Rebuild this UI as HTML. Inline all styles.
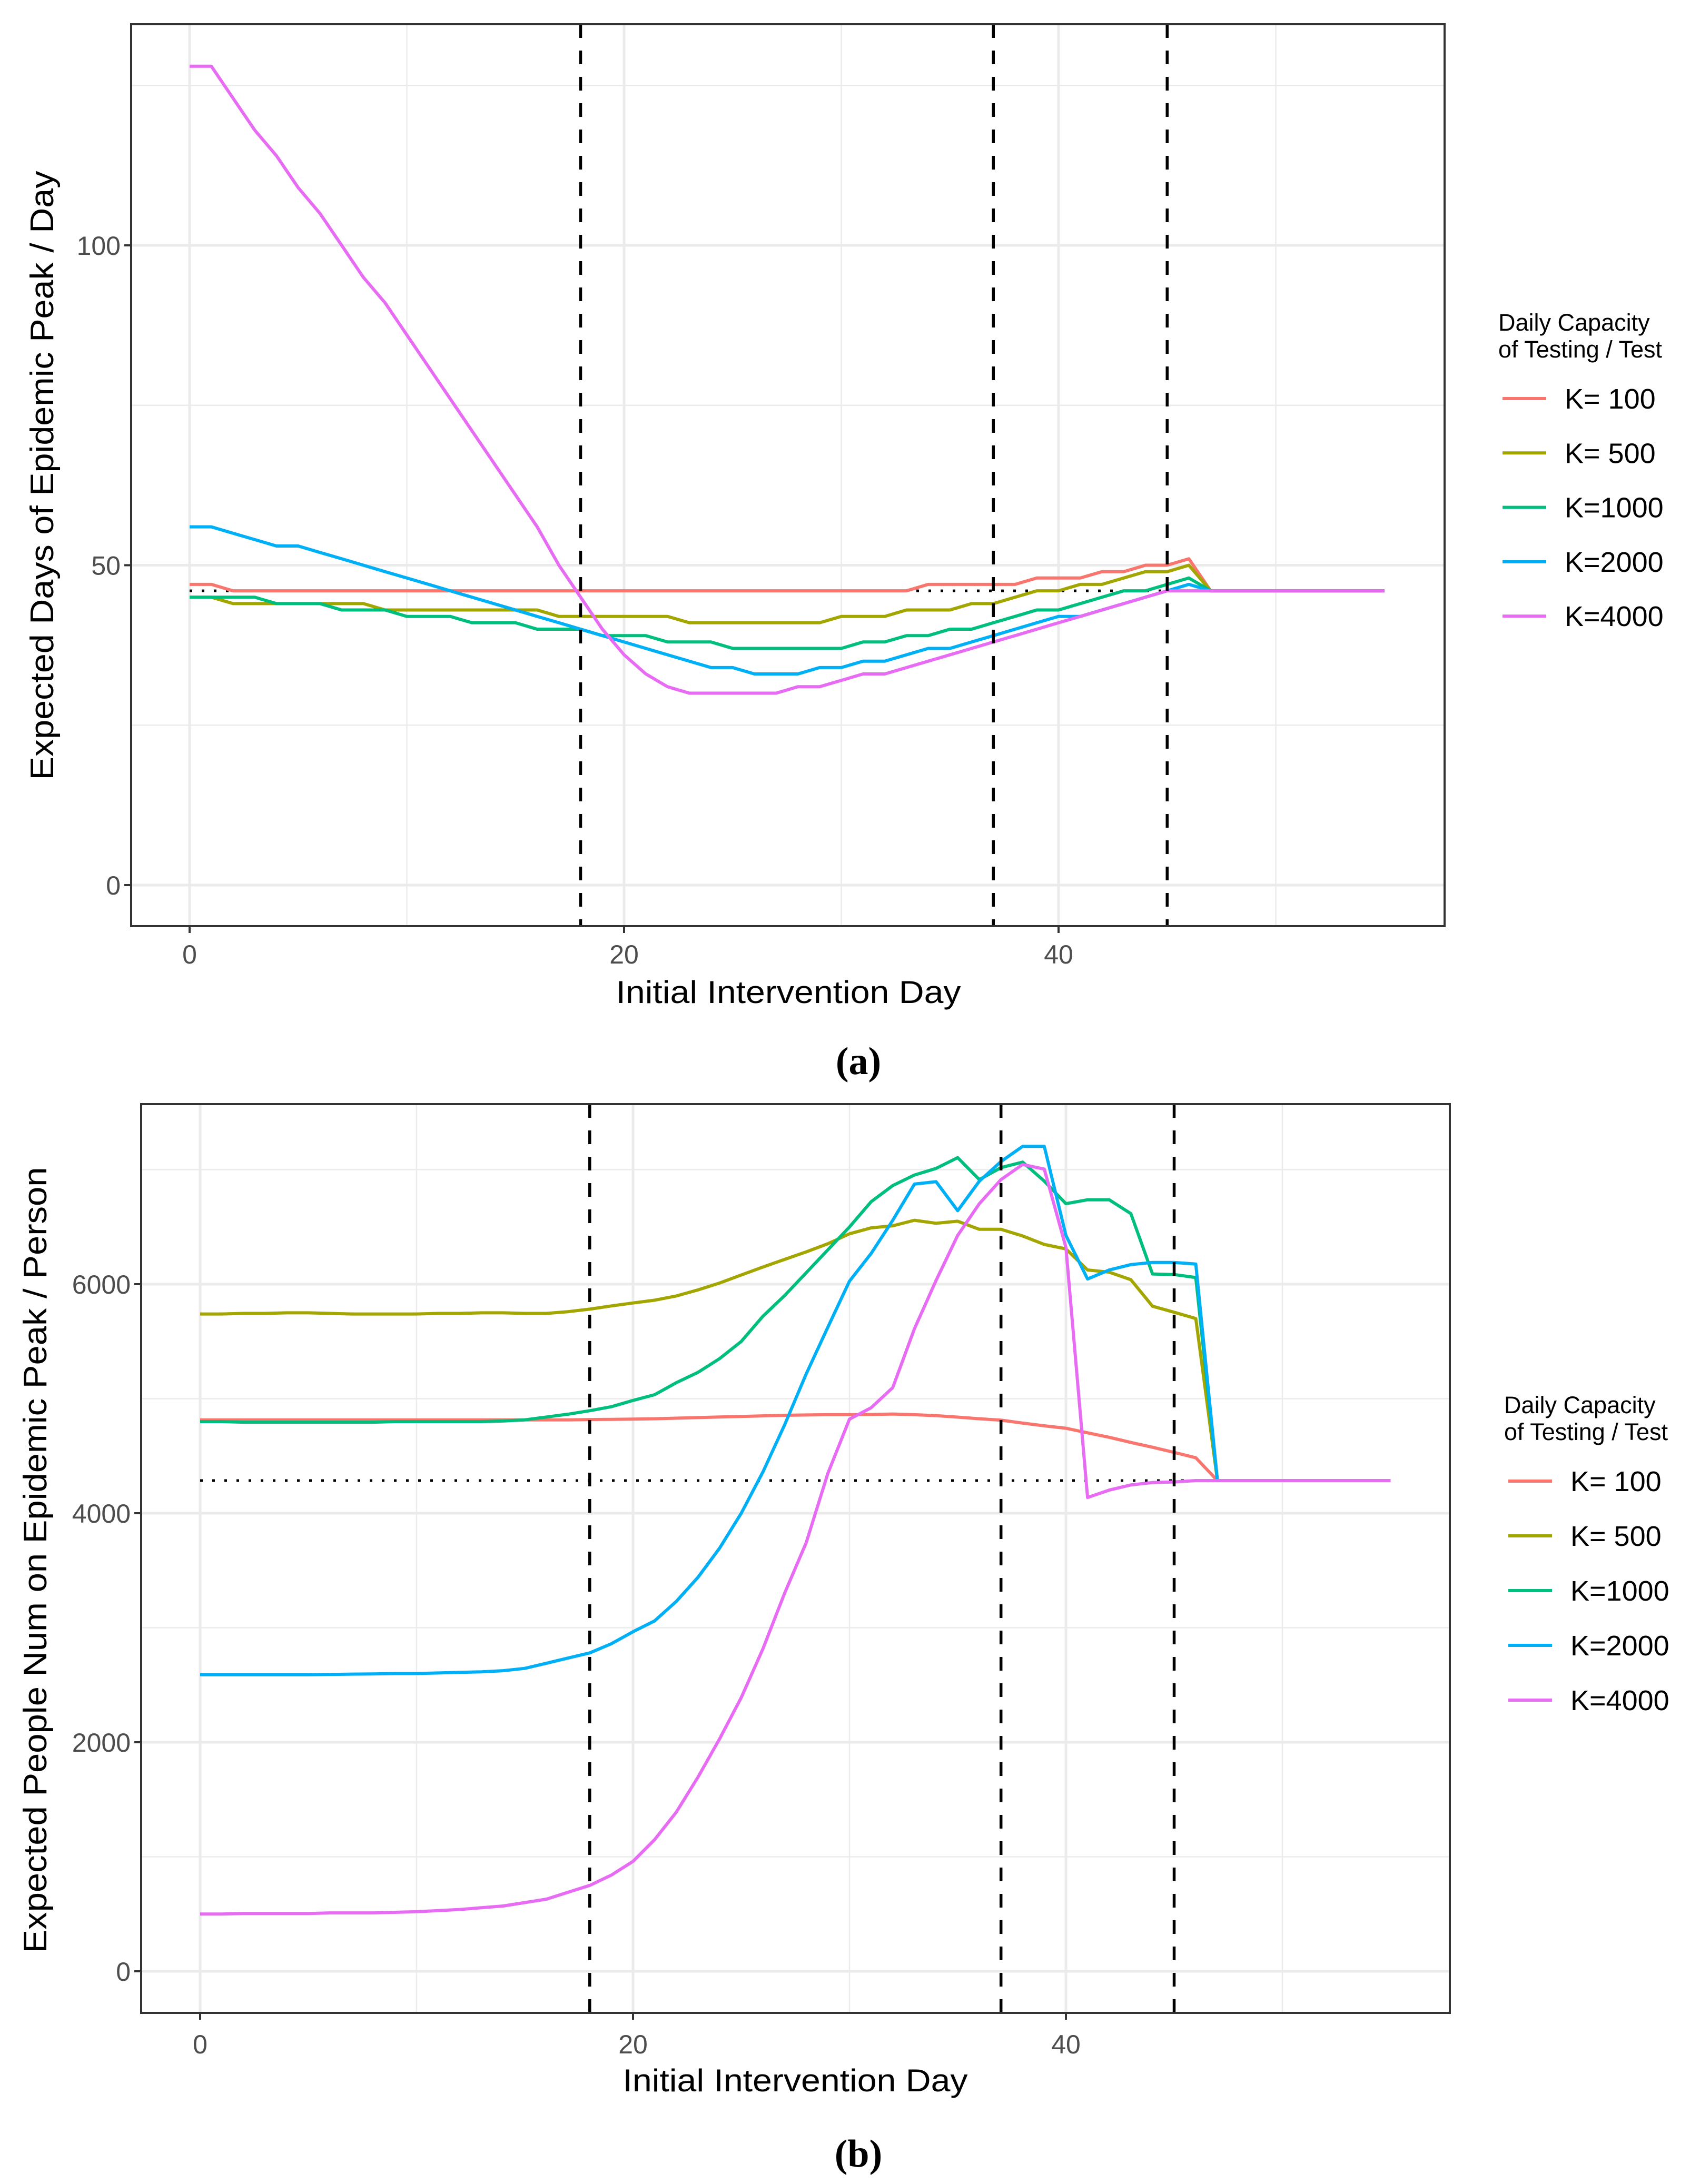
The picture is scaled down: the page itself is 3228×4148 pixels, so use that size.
<!DOCTYPE html>
<html><head><meta charset="utf-8"><style>
html,body{margin:0;padding:0;background:#fff}
svg{display:block}
text{font-family:"Liberation Sans",Arial,sans-serif}
text.cap{font-family:"Liberation Serif","Times New Roman",serif}
</style></head><body>
<svg id="fig" width="3228" height="4148" viewBox="0 0 3228 4148" xmlns="http://www.w3.org/2000/svg"></svg>
<script>
// ---------- data ----------
const days = [];
for (let d = 0; d <= 55; d++) days.push(d);
const seriesNames = ["K= 100","K= 500","K=1000","K=2000","K=4000"];
const colors = ["#F8766D","#A3A500","#00BF7D","#00B0F6","#E76BF3"];
const vlineDays = [18, 37, 45];

// Panel (a): expected days of epidemic peak
const aK100 = [47,47,46,46,46,46,46,46,46,46,46,46,46,46,46,46,46,46,46,46,46,46,46,46,46,46,46,46,46,46,46,46,46,46,47,47,47,47,47,48,48,48,49,49,50,50,51,46,46,46,46,46,46,46,46,46];
const aK500 = [45,45,44,44,44,44,44,44,44,43,43,43,43,43,43,43,43,42,42,42,42,42,42,41,41,41,41,41,41,41,42,42,42,43,43,43,44,44,45,46,46,47,47,48,49,49,50,46,46,46,46,46,46,46,46,46];
const aK1000 = [45,45,45,45,44,44,44,43,43,43,42,42,42,41,41,41,40,40,40,39,39,39,38,38,38,37,37,37,37,37,37,38,38,39,39,40,40,41,42,43,43,44,45,46,46,47,48,46,46,46,46,46,46,46,46,46];
const aK2000 = [56,56,55,54,53,53,52,51,50,49,48,47,46,45,44,43,42,41,40,39,38,37,36,35,34,34,33,33,33,34,34,35,35,36,37,37,38,39,40,41,42,42,43,44,45,46,47,46,46,46,46,46,46,46,46,46];
const aK4000 = [128,128,123,118,114,109,105,100,95,91,86,81,76,71,66,61,56,50,45,40,36,33,31,30,30,30,30,30,31,31,32,33,33,34,35,36,37,38,39,40,41,42,43,44,45,46,46,46,46,46,46,46,46,46,46,46];
const aRef = 46;
const aRefEnd = 46;
const aYTicks = [0, 50, 100];
const aYMinor = [25, 75, 125];

// Panel (b): expected people num on epidemic peak
const bK100 = [4815,4815,4815,4815,4815,4815,4815,4815,4815,4815,4815,4815,4815,4815,4815,4815,4815,4815,4818,4820,4822,4825,4830,4835,4840,4845,4850,4855,4858,4860,4860,4862,4866,4860,4852,4839,4825,4813,4787,4763,4742,4702,4663,4618,4576,4531,4484,4285,4285,4285,4285,4285,4285,4285,4285,4285];
const bK500 = [5740,5740,5745,5745,5750,5750,5745,5740,5740,5740,5740,5745,5745,5750,5750,5745,5745,5760,5782,5810,5836,5860,5897,5950,6010,6080,6150,6216,6282,6353,6440,6492,6510,6558,6532,6550,6479,6479,6421,6347,6308,6124,6105,6039,5808,5755,5700,4285,4285,4285,4285,4285,4285,4285,4285,4285];
const bK1000 = [4800,4800,4795,4795,4795,4795,4795,4795,4795,4800,4800,4800,4800,4800,4805,4815,4840,4865,4895,4930,4985,5035,5140,5230,5350,5500,5720,5900,6100,6300,6500,6720,6861,6953,7011,7105,6913,7018,7066,6900,6703,6737,6737,6616,6089,6084,6058,4285,4285,4285,4285,4285,4285,4285,4285,4285];
const bK2000 = [2590,2590,2590,2590,2590,2590,2592,2595,2597,2600,2600,2605,2610,2615,2625,2645,2690,2735,2780,2860,2965,3060,3230,3440,3695,4000,4360,4770,5216,5624,6026,6268,6558,6874,6895,6642,6900,7071,7203,7203,6426,6045,6124,6171,6190,6190,6176,4285,4285,4285,4285,4285,4285,4285,4285,4285];
const bK4000 = [500,500,505,505,505,505,510,510,510,515,520,530,540,555,570,600,630,690,750,840,960,1150,1390,1695,2030,2390,2815,3300,3742,4347,4821,4921,5097,5610,6032,6426,6703,6913,7045,7005,6321,4137,4202,4247,4268,4273,4285,4285,4285,4285,4285,4285,4285,4285,4285,4285];
const bRef = 4285;
const bRefEnd = 47;
const bYTicks = [0, 2000, 4000, 6000];
const bYMinor = [1000, 3000, 5000, 7000];
const xTicks = [0, 20, 40];
const xMinor = [10, 30, 50];

// ---------- drawing ----------
const NS = "http://www.w3.org/2000/svg";
const svg = document.getElementById("fig");
function mk(tag, attrs, parent, txt) {
  const e = document.createElementNS(NS, tag);
  for (const k in attrs) e.setAttribute(k, attrs[k]);
  if (txt !== undefined) e.textContent = txt;
  (parent || svg).appendChild(e);
  return e;
}

function drawPanel(cfg) {
  const g = mk("g", {});
  
  
  const X = d => cfg.x0 + d * cfg.dx;
  const Y = v => cfg.y0 - v * cfg.dy;
  const L = cfg.left, R = cfg.right, T = cfg.top, B = cfg.bottom;
  const cid = cfg.name + "-clip";
  const defs = mk("defs", {}, g);
  const cp = mk("clipPath", {id: cid}, defs);
  mk("rect", {x: L, y: T, width: R - L, height: B - T}, cp);
  const grid = mk("g", {"clip-path": "url(#" + cid + ")"}, g);
  
  
  cfg.yMinor.forEach(v => mk("line", {x1: L, x2: R, y1: Y(v), y2: Y(v), stroke: "#ebebeb", "stroke-width": 2.5}, grid));
  xMinor.forEach(v => mk("line", {x1: X(v), x2: X(v), y1: T, y2: B, stroke: "#ebebeb", "stroke-width": 2.5}, grid));
  cfg.yTicks.forEach(v => mk("line", {x1: L, x2: R, y1: Y(v), y2: Y(v), stroke: "#ebebeb", "stroke-width": 5}, grid));
  xTicks.forEach(v => mk("line", {x1: X(v), x2: X(v), y1: T, y2: B, stroke: "#ebebeb", "stroke-width": 5}, grid));

  const plot = mk("g", {"clip-path": "url(#" + cid + ")"}, g);
  const ref = mk("line", {x1: X(0), x2: X(cfg.refEnd), y1: Y(cfg.ref), y2: Y(cfg.ref), stroke: "#000", "stroke-width": 5, "stroke-dasharray": "5 18"}, plot);
  
  
  cfg.series.forEach((s, i) => {
    const pts = days.map((d, j) => X(d).toFixed(1) + "," + Y(s[j]).toFixed(1)).join(" ");
    const pl = mk("polyline", {points: pts, fill: "none", stroke: colors[i], "stroke-width": 6, "stroke-linejoin": "round"}, plot);
    
    
  });
  vlineDays.forEach(d => {
    const vl = mk("line", {x1: X(d), x2: X(d), y1: T, y2: B, stroke: "#000", "stroke-width": 5.5, "stroke-dasharray": "26 24"}, plot);
    
    
  });
  const br = mk("rect", {x: L, y: T, width: R - L, height: B - T, fill: "none", stroke: "#333333", "stroke-width": 4}, g);
  
  
  cfg.yTicks.forEach(v => {
    mk("line", {x1: L - 13, x2: L, y1: Y(v), y2: Y(v), stroke: "#333", "stroke-width": 4}, g);
    const t = mk("text", {x: L - 20, y: Y(v) + 18, "text-anchor": "end", "font-size": 50, fill: "#4d4d4d"}, g, String(v));
    
    
  });
  xTicks.forEach(v => {
    mk("line", {x1: X(v), x2: X(v), y1: B, y2: B + 13, stroke: "#333", "stroke-width": 4}, g);
    const t = mk("text", {x: X(v), y: cfg.xTickY, "text-anchor": "middle", "font-size": 50, fill: "#4d4d4d"}, g, String(v));
    
    
  });
  const xt = mk("text", {x: cfg.xTitleX, y: cfg.xTitleY, "text-anchor": "middle", "font-size": 60, fill: "#000", textLength: 655, lengthAdjust: "spacingAndGlyphs"}, g, "Initial Intervention Day");
  
  
  const yt = mk("text", {x: 0, y: 0, "text-anchor": "middle", "font-size": 62, fill: "#000", textLength: cfg.yTitleLen, lengthAdjust: "spacingAndGlyphs", transform: "translate(" + cfg.yTitleX + "," + cfg.yTitleCY + ") rotate(-90)"}, g, cfg.yTitle);
  
  
  const lg = mk("g", {}, g);
  
  
  mk("text", {x: cfg.legX, y: cfg.legTitleY, "font-size": 45, fill: "#000"}, lg, "Daily Capacity");
  mk("text", {x: cfg.legX, y: cfg.legTitleY + 51, "font-size": 45, fill: "#000"}, lg, "of Testing / Test");
  seriesNames.forEach((n, i) => {
    const yy = cfg.legY0 + i * cfg.legStep;
    const e = mk("g", {}, lg);
    
    
    mk("line", {x1: cfg.legX + 8, x2: cfg.legX + 91, y1: yy, y2: yy, stroke: colors[i], "stroke-width": 6}, e);
    mk("text", {x: cfg.legX + 126, y: yy + 19, "font-size": 54, fill: "#000"}, e, n);
  });
  const cap = mk("text", {x: 1630, y: cfg.capY, "text-anchor": "middle", "font-size": 74, "font-weight": "bold", fill: "#000", "class": "cap", style: "font-family:'Liberation Serif','Times New Roman',serif"}, g, cfg.cap);
  
  
}

drawPanel({
  name: "panel-a", left: 249, right: 2743, top: 46, bottom: 1759,
  x0: 360, dx: 41.25, y0: 1681, dy: 12.15,
  yTicks: aYTicks, yMinor: aYMinor, ref: aRef, refEnd: aRefEnd,
  series: [aK100, aK500, aK1000, aK2000, aK4000],
  xTickY: 1830, xTitleX: 1497, xTitleY: 1905,
  yTitle: "Expected Days of Epidemic Peak / Day", yTitleX: 101, yTitleCY: 903, yTitleLen: 1157,
  legX: 2845, legTitleY: 628, legY0: 757, legStep: 103.3,
  cap: "(a)", capY: 2040
});
drawPanel({
  name: "panel-b", left: 268, right: 2753, top: 2097, bottom: 3823,
  x0: 380, dx: 41.1, y0: 3744, dy: 0.2175,
  yTicks: bYTicks, yMinor: bYMinor, ref: bRef, refEnd: bRefEnd,
  series: [bK100, bK500, bK1000, bK2000, bK4000],
  xTickY: 3900, xTitleX: 1510, xTitleY: 3972,
  yTitle: "Expected People Num on Epidemic Peak / Person", yTitleX: 88, yTitleCY: 2963, yTitleLen: 1493,
  legX: 2856, legTitleY: 2684, legY0: 2813, legStep: 104,
  cap: "(b)", capY: 4115
});
</script>
</body></html>
